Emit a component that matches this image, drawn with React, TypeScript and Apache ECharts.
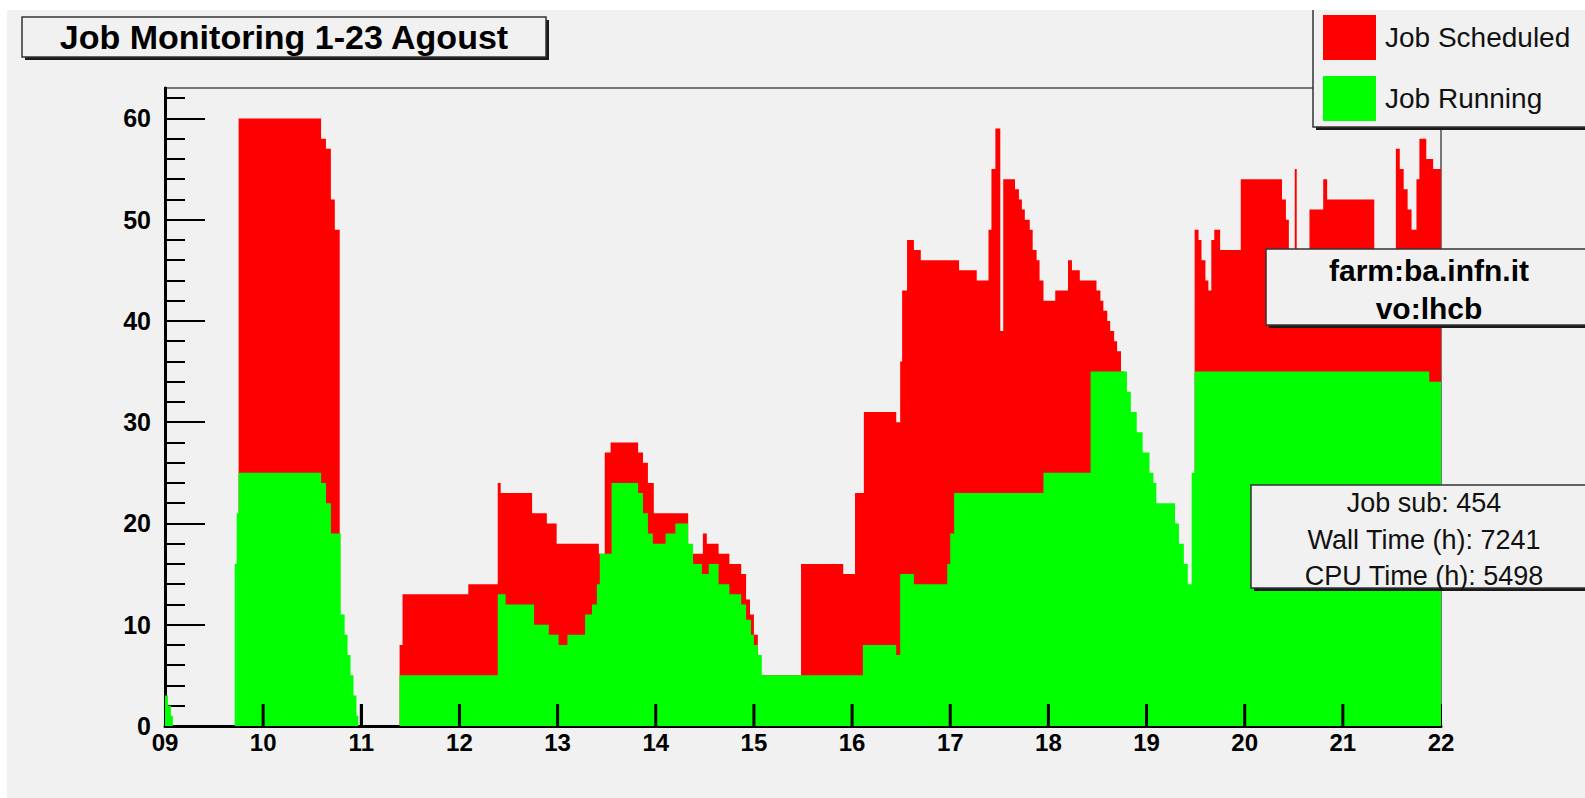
import React, { useEffect, useRef } from 'react';
import * as echarts from 'echarts';

const TITLE = 'Job Monitoring 1-23 Agoust';
const SERIES_NAMES = ['Job Scheduled', 'Job Running'];
const FARM_LINES = ['farm:ba.infn.it', 'vo:lhcb'];
const STATS_LINES = ['Job sub: 454', 'Wall Time (h): 7241', 'CPU Time (h): 5498'];

const X_MIN = 9;
const X_MAX = 22;
const Y_MAX = 63;
const DAY_TICKS = [10, 11, 12, 13, 14, 15, 16, 17, 18, 19, 20, 21];
const Y_MAJOR = [0, 10, 20, 30, 40, 50, 60];
const Y_MINOR = [2, 4, 6, 8, 12, 14, 16, 18, 22, 24, 26, 28, 32, 34, 36, 38, 42, 44, 46, 48, 52, 54, 56, 58, 62];

// Job Scheduled: value holds from each time (day of August) until the next one
const SCHED_T = [
  9.0, 9.75, 10.59, 10.64, 10.69, 10.73, 10.78, 11.39, 11.42, 12.09, 12.39, 12.42, 12.74, 12.89, 12.99,
  13.42, 13.48, 13.54, 13.82, 13.87, 13.92, 13.98, 14.33, 14.48, 14.52, 14.64, 14.75, 14.87, 14.92, 14.96,
  15.0, 15.04, 15.07, 15.48, 15.91, 16.03, 16.12, 16.45, 16.49, 16.51, 16.56, 16.63, 16.7, 17.09, 17.27,
  17.39, 17.42, 17.46, 17.51, 17.54, 17.66, 17.7, 17.73, 17.76, 17.81, 17.84, 17.88, 17.91, 17.95, 18.07,
  18.2, 18.24, 18.32, 18.49, 18.53, 18.56, 18.6, 18.63, 18.67, 18.7, 18.74, 18.77, 19.49, 19.53, 19.56,
  19.6, 19.63, 19.66, 19.69, 19.75, 19.96, 20.38, 20.42, 20.45, 20.51, 20.53, 20.66, 20.8, 20.84, 21.32,
  21.54, 21.58, 21.62, 21.66, 21.7, 21.75, 21.78, 21.85, 21.92, 22.0,
];
const SCHED_V = [
  0, 60, 58, 57, 52, 49, 0, 8, 13, 14, 24, 23, 21, 20, 18,
  17, 27, 28, 27, 26, 24, 21, 17, 19, 18, 17, 16, 15, 12.5, 11,
  9, 7, 5, 16, 15, 23, 31, 30, 36, 43, 48, 47, 46, 45, 44,
  49, 55, 59, 39, 54, 53, 52, 51, 50, 49, 47, 46, 44, 42, 43,
  46, 45, 44, 43, 42, 41, 40, 39, 38, 37, 35, 0, 49, 48, 46,
  44, 43, 48, 49, 47, 54, 52, 50, 47, 55, 47, 51, 54, 52, 45,
  57, 55, 53, 51, 49, 54, 58, 56, 55, 55,
];

// Job Running
const RUN_T = [
  9.0, 9.03, 9.06, 9.08, 9.71, 9.73, 9.75, 10.59, 10.64, 10.69, 10.79, 10.83, 10.86, 10.89, 10.92,
  10.95, 10.97, 11.39, 12.39, 12.47, 12.76, 12.91, 13.01, 13.1, 13.28, 13.35, 13.4, 13.43, 13.55, 13.82,
  13.87, 13.92, 13.97, 14.1, 14.2, 14.33, 14.38, 14.47, 14.54, 14.64, 14.75, 14.87, 14.92, 14.97, 15.0,
  15.04, 15.08, 16.11, 16.45, 16.49, 16.63, 16.97, 17.0, 17.04, 17.95, 18.43, 18.8, 18.84, 18.9, 18.96,
  19.03, 19.07, 19.1, 19.29, 19.33, 19.38, 19.42, 19.46, 19.49, 21.88, 22.0,
];
const RUN_V = [
  3, 2, 1, 0, 16, 21, 25, 24, 22, 19, 11, 9, 7, 5, 3,
  1, 0, 5, 13, 12, 10, 9, 8, 9, 11, 12, 14, 17, 24, 23,
  21, 19, 18, 19, 20, 18, 16, 15, 16, 14, 13, 12, 10.5, 9, 8,
  7, 5, 8, 7, 15, 14, 16, 19, 23, 25, 35, 33, 31, 29, 27,
  25, 24, 22, 20, 18, 16, 14, 25, 35, 34, 34,
];

const FONT = '"Liberation Sans", Arial, Helvetica, sans-serif';
const BG = '#f1f1f1';

function box(x: number, y: number, w: number, h: number, z: number) {
  return [
    { type: 'rect', z, shape: { x: x + 3, y: y + 3, width: w, height: h }, style: { fill: '#1a1a1a' } },
    { type: 'rect', z: z + 1, shape: { x, y, width: w, height: h }, style: { fill: BG, stroke: '#333', lineWidth: 1.5 } },
  ];
}

export default function App() {
  const ref = useRef<HTMLDivElement>(null);
  useEffect(() => {
    if (!ref.current) return;
    const chart = echarts.init(ref.current, undefined, { renderer: 'svg' });
    const sched = SCHED_T.map((t, i) => [t, SCHED_V[i]]);
    const run = RUN_T.map((t, i) => [t, RUN_V[i]]);

    const graphics: any[] = [
      ...box(22, 17, 524, 40, 20),
      { type: 'text', z: 22, style: { x: 284, y: 37, text: TITLE, font: `bold 34px ${FONT}`, fill: '#000', align: 'center', verticalAlign: 'middle' } },
      ...box(1313, -10, 300, 137, 6),
      ...box(1266, 249, 330, 76, 20),
      { type: 'text', z: 22, style: { x: 1429, y: 270, text: FARM_LINES[0], font: `bold 30px ${FONT}`, fill: '#000', align: 'center', verticalAlign: 'middle' } },
      { type: 'text', z: 22, style: { x: 1429, y: 308, text: FARM_LINES[1], font: `bold 30px ${FONT}`, fill: '#000', align: 'center', verticalAlign: 'middle' } },
      ...box(1251, 485, 340, 103, 20),
      ...STATS_LINES.map((s, i) => ({
        type: 'text', z: 22,
        style: { x: 1424, y: 503 + i * 36.5, text: s, font: `27px ${FONT}`, fill: '#111', align: 'center', verticalAlign: 'middle' },
      })),
      { type: 'rect', z: 50, shape: { x: 0, y: 0, width: 1585, height: 10 }, style: { fill: '#ffffff' } },
      { type: 'rect', z: 50, shape: { x: 0, y: 0, width: 7, height: 798 }, style: { fill: '#ffffff' } },
    ];

    chart.setOption({
      animation: false,
      backgroundColor: BG,
      grid: { left: 165, top: 88, right: 144, bottom: 72, show: true, borderColor: '#777', borderWidth: 2 },
      legend: {
        data: SERIES_NAMES,
        orient: 'vertical',
        left: 1318,
        top: 10,
        itemWidth: 53,
        itemHeight: 45,
        itemGap: 16,
        icon: 'rect',
        selectedMode: false,
        z: 10,
        textStyle: { fontSize: 28, color: '#111', fontFamily: FONT, padding: [0, 0, 0, 4] },
      },
      xAxis: {
        type: 'value',
        min: X_MIN,
        max: X_MAX,
        interval: 1,
        axisLine: { show: true, onZero: false, lineStyle: { color: '#000', width: 3 } },
        axisTick: { show: true, inside: true, length: 22, lineStyle: { color: '#000', width: 2 } },
        axisLabel: {
          color: '#000', fontSize: 24, fontWeight: 'bold', fontFamily: FONT, margin: 4,
          formatter: (v: number) => (v < 10 ? '0' + v : String(v)),
        },
        splitLine: { show: false },
      },
      yAxis: [
        {
          type: 'value',
          min: 0,
          max: Y_MAX,
          axisLine: { show: true, lineStyle: { color: '#000', width: 3 } },
          axisTick: { show: true, inside: true, length: 40, customValues: Y_MAJOR, lineStyle: { color: '#000', width: 2 } },
          axisLabel: { customValues: Y_MAJOR, color: '#000', fontSize: 25, fontWeight: 'bold', fontFamily: FONT, margin: 14 },
          splitLine: { show: false },
        },
        {
          type: 'value',
          min: 0,
          max: Y_MAX,
          position: 'left',
          axisLine: { show: false },
          axisTick: { show: true, inside: true, length: 20, customValues: Y_MINOR, lineStyle: { color: '#000', width: 2 } },
          axisLabel: { show: false },
          splitLine: { show: false },
        },
      ],
      series: [
        {
          name: SERIES_NAMES[0], type: 'line', step: 'end', data: sched, yAxisIndex: 0,
          showSymbol: false, symbol: 'none', color: '#ff0000',
          lineStyle: { width: 0 }, areaStyle: { color: '#ff0000', opacity: 1 }, z: 2,
        },
        {
          name: SERIES_NAMES[1], type: 'line', step: 'end', data: run, yAxisIndex: 0,
          showSymbol: false, symbol: 'none', color: '#00ff00',
          lineStyle: { width: 0 }, areaStyle: { color: '#00ff00', opacity: 1 }, z: 3,
        },
        {
          name: 'day ticks', type: 'custom', coordinateSystem: 'cartesian2d', xAxisIndex: 0, yAxisIndex: 0,
          silent: true, z: 100, clip: false,
          data: DAY_TICKS.map((d) => [d, 0]),
          renderItem: (_params: any, api: any) => {
            const p = api.coord([api.value(0), 0]);
            return {
              type: 'rect',
              shape: { x: p[0] - 1.5, y: p[1] - 22, width: 3, height: 22 },
              style: { fill: '#000000' },
            };
          },
        },
      ],
      graphic: { elements: graphics },
    });
    return () => chart.dispose();
  }, []);
  return <div ref={ref} style={{ position: 'absolute', left: 0, top: 0, width: 1585, height: 798 }} />;
}
